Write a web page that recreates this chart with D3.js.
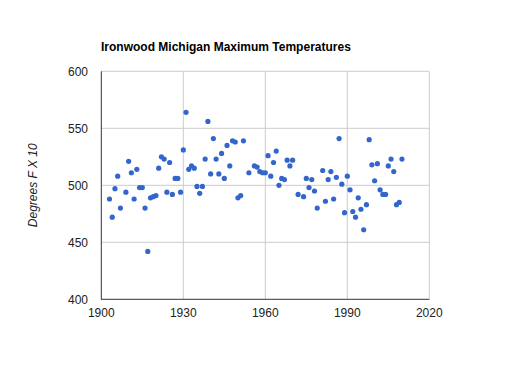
<!DOCTYPE html>
<html>
<head>
<meta charset="utf-8">
<script src="https://cdn.jsdelivr.net/npm/d3@7"></script>
<style>
  html, body { margin: 0; padding: 0; background: #fff; }
  svg { display: block; font-family: Arial, "Liberation Sans", sans-serif; }
</style>
</head>
<body>
<svg id="chart" width="530" height="371"></svg>
<script>
const title = "Ironwood Michigan Maximum Temperatures";
const yAxisTitle = "Degrees F X 10";

const years = [
  1903, 1904, 1905, 1906, 1907, 1909, 1910, 1911, 1912, 1913,
  1914, 1915, 1916, 1917, 1918, 1919, 1920, 1921, 1922, 1923,
  1924, 1925, 1926, 1927, 1928, 1929, 1930, 1931, 1932, 1933,
  1934, 1935, 1936, 1937, 1938, 1939, 1940, 1941, 1942, 1943,
  1944, 1945, 1946, 1947, 1948, 1949, 1950, 1951, 1952, 1954,
  1956, 1957, 1958, 1959, 1960, 1961, 1962, 1963, 1964, 1965,
  1966, 1967, 1968, 1969, 1970, 1972, 1974, 1975, 1976, 1977,
  1978, 1979, 1981, 1982, 1983, 1984, 1985, 1986, 1987, 1988,
  1989, 1990, 1991, 1992, 1993, 1994, 1995, 1996, 1997, 1998,
  1999, 2000, 2001, 2002, 2003, 2004, 2005, 2006, 2007, 2008,
  2009, 2010
];
const maxTemps = [
  488, 472, 497, 508, 480, 494, 521, 511, 488, 514,
  498, 498, 480, 442, 489, 490, 491, 515, 525, 523,
  494, 520, 492, 506, 506, 494, 531, 564, 514, 517,
  515, 499, 493, 499, 523, 556, 510, 541, 523, 510,
  528, 506, 535, 517, 539, 538, 489, 491, 539, 511,
  517, 516, 512, 511, 511, 526, 508, 520, 530, 500,
  506, 505, 522, 517, 522, 492, 490, 506, 498, 505,
  495, 480, 513, 486, 505, 512, 488, 507, 541, 501,
  476, 508, 496, 477, 472, 489, 479, 461, 483, 540,
  518, 504, 519, 496, 492, 492, 517, 523, 512, 483,
  485, 523
];
const yTicks = [400, 450, 500, 550, 600];
const xTicks = [1900, 1930, 1960, 1990, 2020];

const svg = d3.select("#chart");
const pLeft = 101.3, pRight = 429.3, pTop = 71.3, pBottom = 299.3;

const x = d3.scaleLinear().domain([1900, 2020]).range([pLeft, pRight]);
const y = d3.scaleLinear().domain([400, 600]).range([pBottom, pTop]);

// gridlines
svg.append("g").selectAll("line").data(yTicks.slice(1)).join("line")
  .attr("x1", pLeft).attr("x2", pRight)
  .attr("y1", d => y(d)).attr("y2", d => y(d))
  .attr("stroke", "#cccccc").attr("stroke-width", 1);
svg.append("g").selectAll("line").data(xTicks.slice(1)).join("line")
  .attr("y1", pTop).attr("y2", pBottom)
  .attr("x1", d => x(d)).attr("x2", d => x(d))
  .attr("stroke", "#cccccc").attr("stroke-width", 1);

// axis lines
svg.append("line").attr("x1", pLeft).attr("x2", pLeft).attr("y1", pTop).attr("y2", pBottom + 0.5)
  .attr("stroke", "#333333").attr("stroke-width", 1);
svg.append("line").attr("x1", pLeft).attr("x2", pRight).attr("y1", pBottom).attr("y2", pBottom)
  .attr("stroke", "#333333").attr("stroke-width", 1);

// y labels
svg.append("g").selectAll("text").data(yTicks).join("text")
  .attr("x", 88).attr("y", d => y(d)).attr("dy", "0.36em")
  .attr("text-anchor", "end").attr("font-size", 12).attr("fill", "#222")
  .text(d => d);

// x labels
svg.append("g").selectAll("text").data(xTicks).join("text")
  .attr("x", d => x(d)).attr("y", 316.7)
  .attr("text-anchor", "middle").attr("font-size", 12).attr("fill", "#222")
  .text(d => d);

// axis title
svg.append("text")
  .attr("transform", `translate(37, ${(pTop + pBottom) / 2}) rotate(-90)`)
  .attr("text-anchor", "middle").attr("font-size", 12).attr("font-style", "italic")
  .attr("fill", "#222").text(yAxisTitle);

// title
svg.append("text").attr("x", 101).attr("y", 51)
  .attr("font-size", 12).attr("font-weight", "bold").attr("fill", "#000")
  .text(title);

// points
svg.append("g").selectAll("circle").data(years.map((yr, i) => [yr, maxTemps[i]])).join("circle")
  .attr("cx", d => x(d[0])).attr("cy", d => y(d[1])).attr("r", 2.6)
  .attr("fill", "#3366cc");
</script>
</body>
</html>
